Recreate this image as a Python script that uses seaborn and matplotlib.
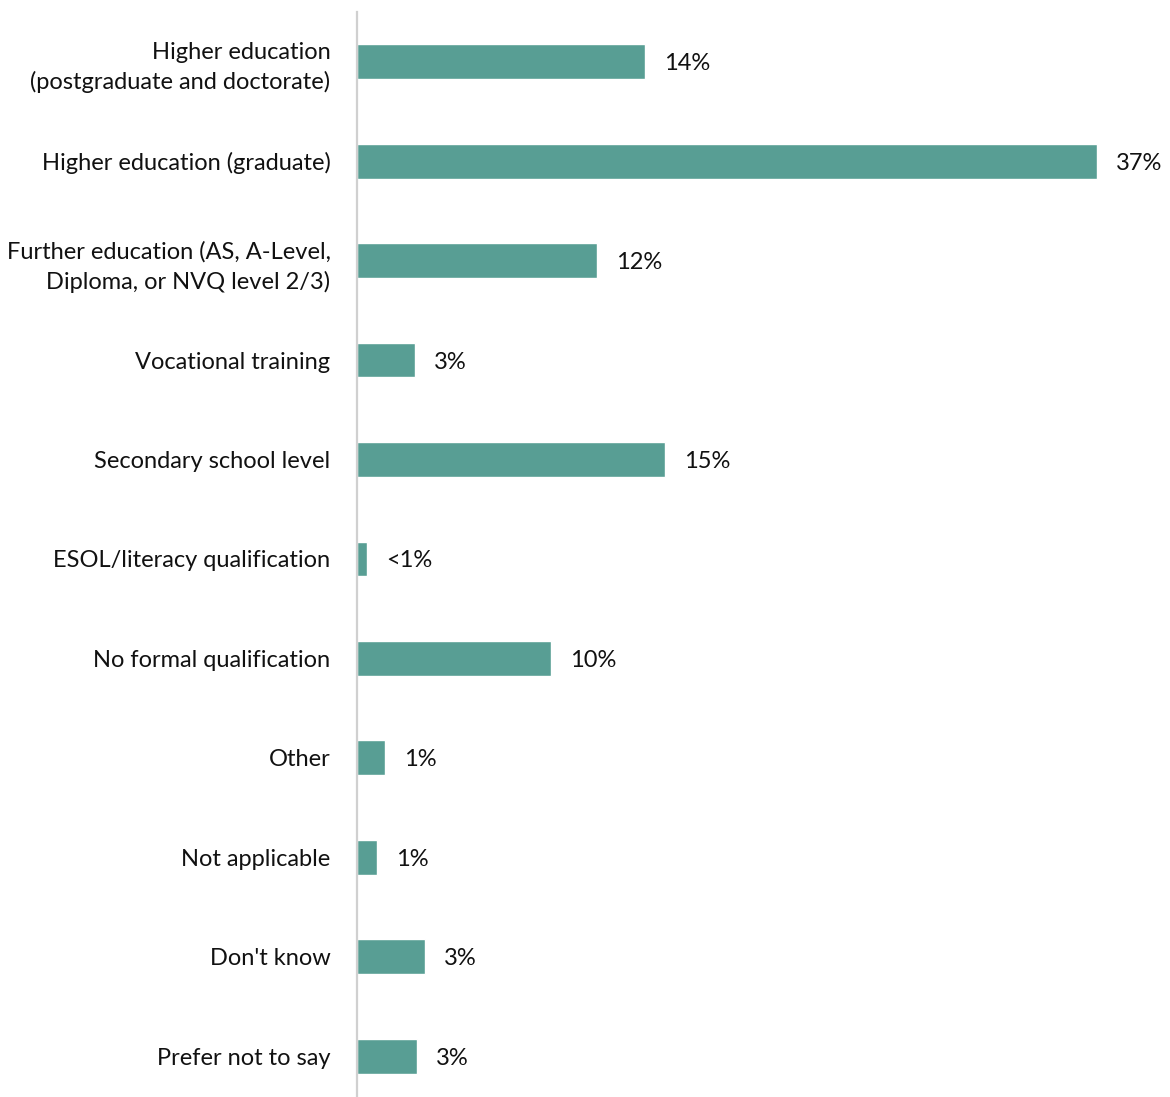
import matplotlib
matplotlib.use("Agg")
import matplotlib.pyplot as plt
import seaborn as sns
import pandas as pd

categories = [
    "Higher education\n(postgraduate and doctorate)",
    "Higher education (graduate)",
    "Further education (AS, A-Level,\nDiploma, or NVQ level 2/3)",
    "Vocational training",
    "Secondary school level",
    "ESOL/literacy qualification",
    "No formal qualification",
    "Other",
    "Not applicable",
    "Don't know",
    "Prefer not to say",
]
values = [14.4, 37.0, 12.0, 2.9, 15.4, 0.5, 9.7, 1.4, 1.0, 3.4, 3.0]

df = pd.DataFrame({"category": categories, "value": values})

sns.set_theme(style="white")
plt.rcParams["font.family"] = ["Lato", "DejaVu Sans"]

W, H = 1170, 1097
fig = plt.figure(figsize=(W / 100, H / 100), dpi=100)
ax = fig.add_axes([357 / W, 0.0, (W - 357) / W, (H - 12) / H])

sns.barplot(data=df, x="value", y="category", color="#589E94",
            width=0.35, saturation=1, ax=ax)

ax.set_xlim(0, (W - 357) / 20)
ax.set_ylim(10.41, -0.5)
ax.set_xlabel("")
ax.set_ylabel("")
ax.set_xticks([])
ax.tick_params(axis="y", length=0, pad=19, labelsize=17, labelcolor="#111111")
for lbl in ax.get_yticklabels():
    lbl.set_horizontalalignment("right")
    lbl.set_multialignment("right")
    lbl.set_linespacing(1.45)

for s in ["top", "right", "bottom"]:
    ax.spines[s].set_visible(False)
ax.spines["left"].set_color("#D0D0D0")
ax.spines["left"].set_linewidth(1.6)

for i, v in enumerate(values):
    txt = "<1%" if v < 1 else f"{round(v)}%"
    ax.text(v + 0.95, i, txt, va="center_baseline", ha="left", fontsize=17,
            color="#111111", clip_on=False)

fig.savefig("out.png", dpi=100, facecolor="white")
